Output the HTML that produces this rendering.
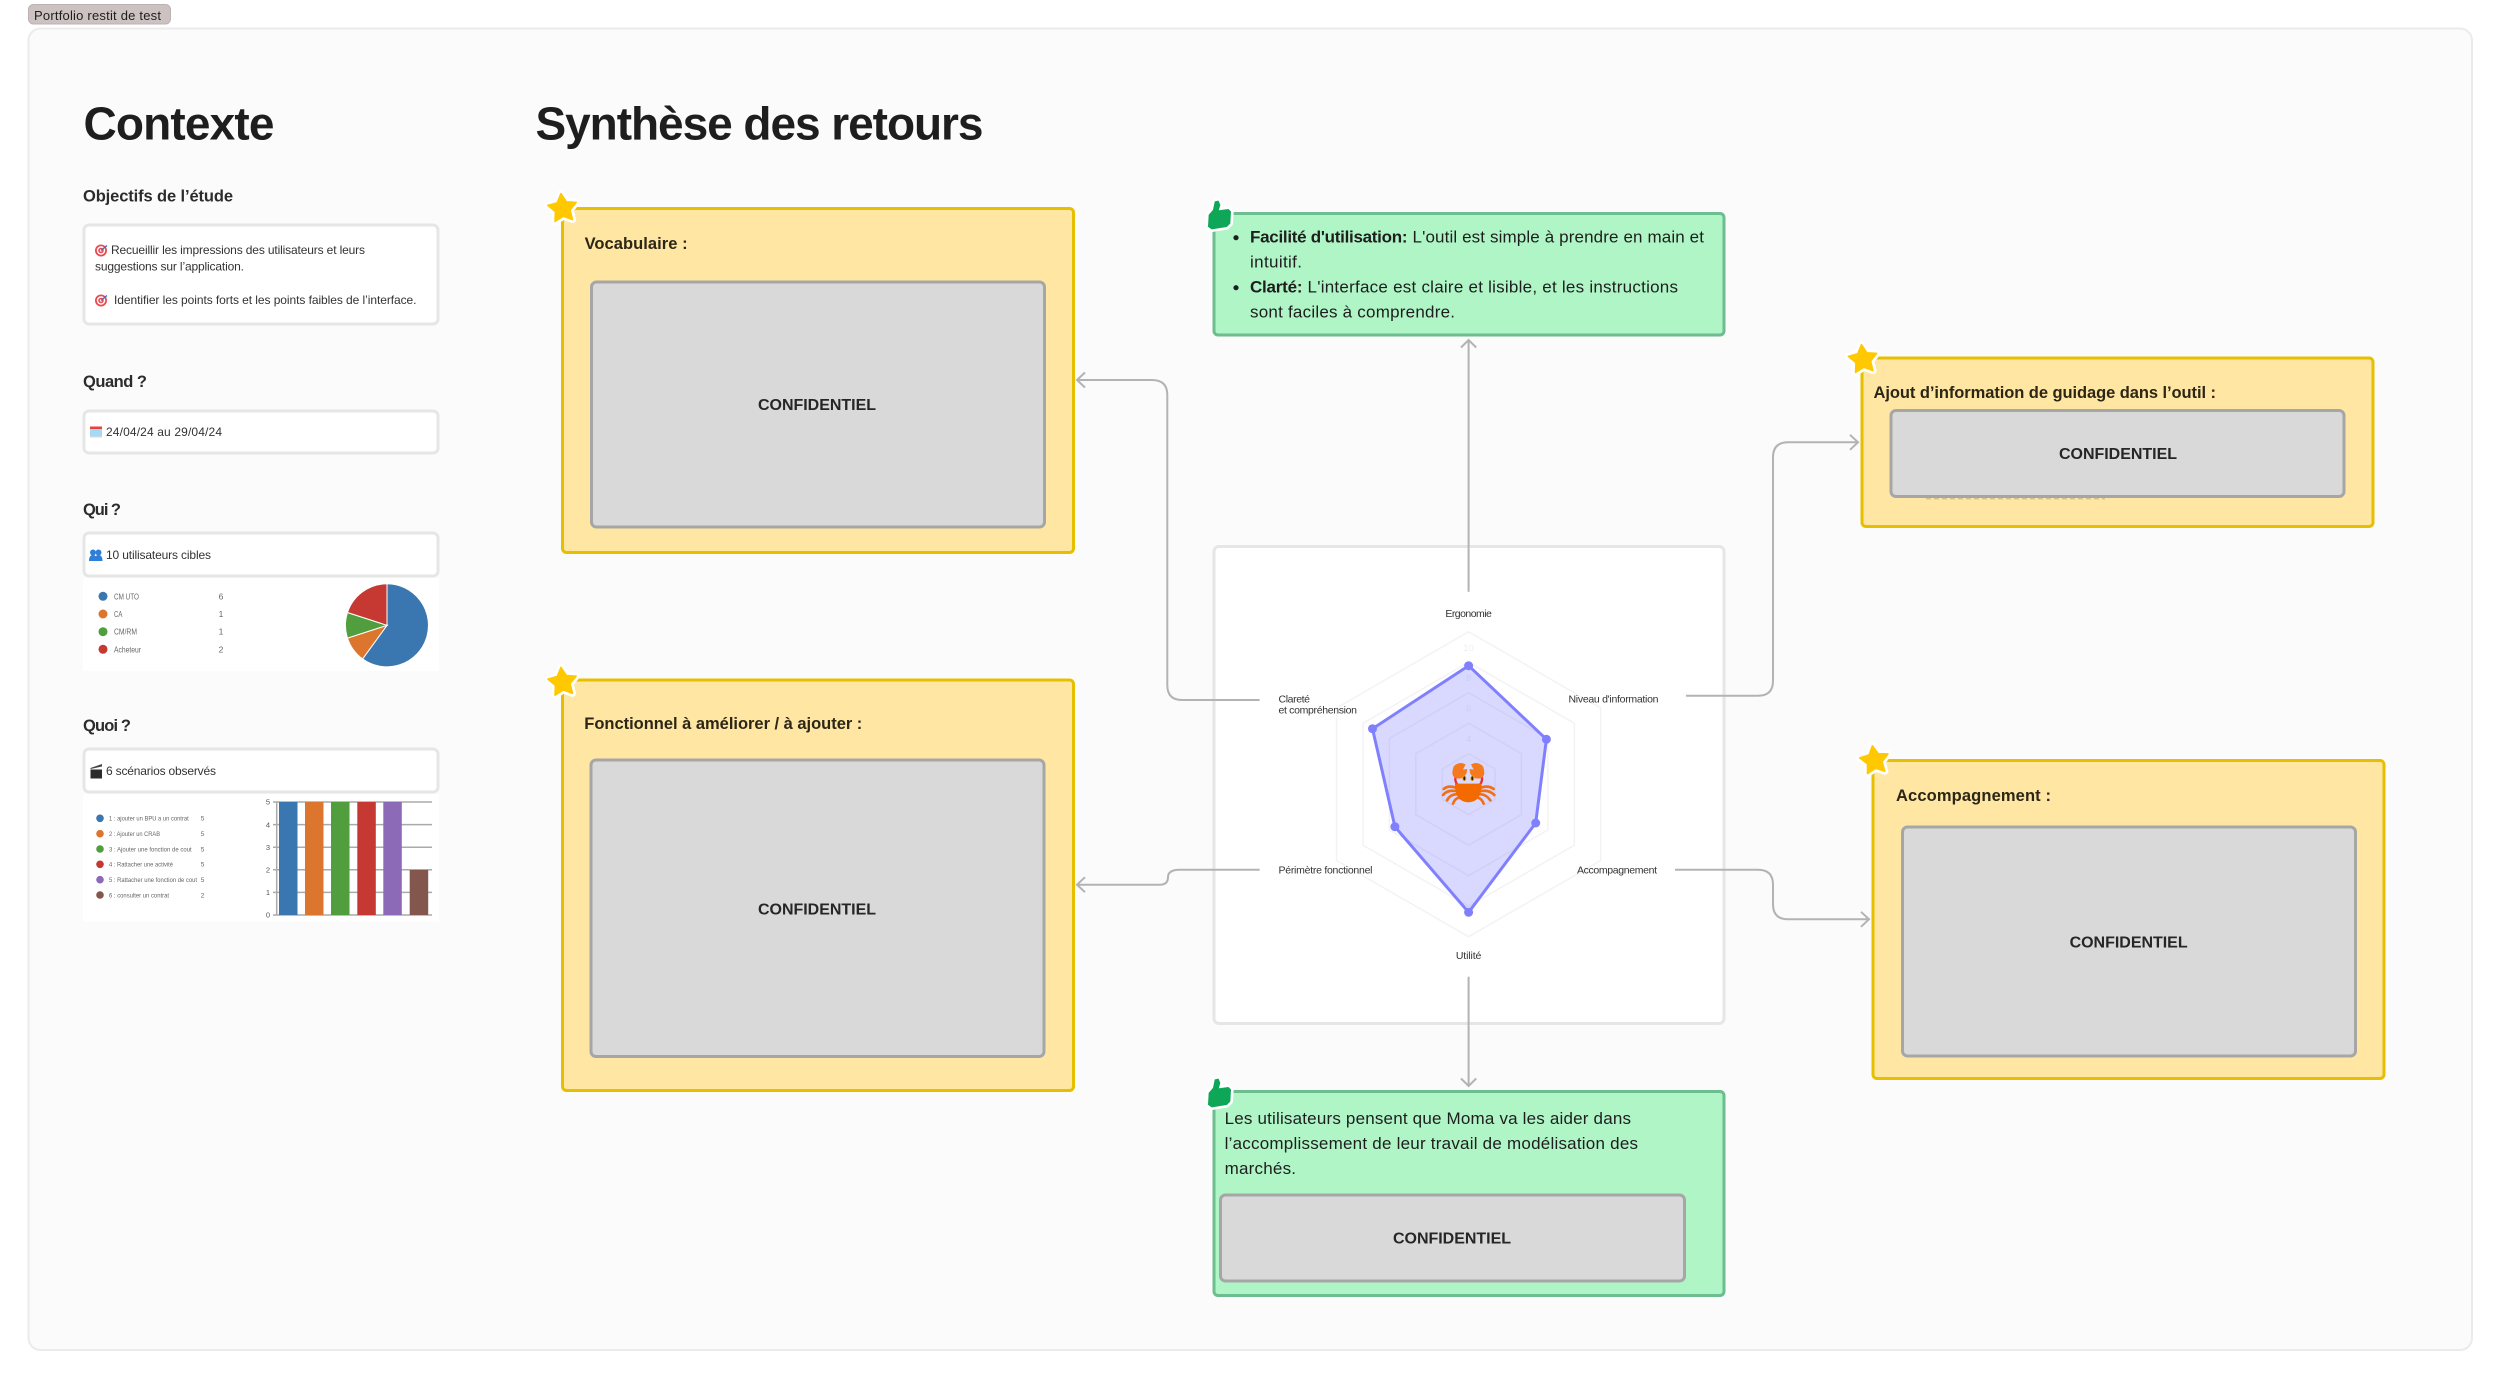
<!DOCTYPE html>
<html lang="fr">
<head>
<meta charset="utf-8">
<title>Portfolio restit de test</title>
<style>
html,body{margin:0;padding:0;background:#fff;width:2500px;height:1378px;overflow:hidden}
svg{display:block}
text{font-family:"Liberation Sans",sans-serif;fill:#1e1e1e}
.b{font-weight:bold}
.h1{font-size:46px;font-weight:bold;fill:#1e1e1e}
.h2{font-size:16.5px;font-weight:bold;fill:#2c2c2c}
.s{font-size:12px;fill:#333}
.card{fill:#fff;stroke:#e6e6e6;stroke-width:3}
.y{fill:#ffe6a3;stroke:#e6bf00;stroke-width:3}
.g{fill:#aff5c6;stroke:#6cbd8f;stroke-width:3}
.c{fill:#d9d9d9;stroke:#a6a6a6;stroke-width:3}
.t{font-size:16.5px;font-weight:bold;fill:#2b2616}
.cf{font-size:16px;font-weight:bold;fill:#262626}
.gt{font-size:17px;fill:#1e1e1e}
.l1{font-size:8.5px;fill:#666}
.l2{font-size:6.5px;fill:#666}
.rl{font-size:10.5px;fill:#333}
.rn{font-size:9.5px;fill:#efefef}
.ring{fill:none;stroke:#f3f3f3;stroke-width:1.5}
.con{fill:none;stroke:#b3b3b3;stroke-width:2}
.grid{stroke:#aaa;stroke-width:1.5}
</style>
</head>
<body>
<svg xmlns="http://www.w3.org/2000/svg" width="2500" height="1378" viewBox="0 0 2500 1378">
<defs>
<g id="star">
<polygon points="0,-15 4.58,-6.31 14.27,-4.64 7.42,2.41 8.82,12.14 0,7.8 -8.82,12.14 -7.42,2.41 -14.27,-4.64 -4.58,-6.31" fill="#fff" stroke="#fff" stroke-width="7" stroke-linejoin="round"/>
<polygon points="0,-15 4.58,-6.31 14.27,-4.64 7.42,2.41 8.82,12.14 0,7.8 -8.82,12.14 -7.42,2.41 -14.27,-4.64 -4.58,-6.31" fill="#ffc800" stroke="#ffc800" stroke-width="1.5" stroke-linejoin="round"/>
</g>
<g id="thumb">
<path d="M42 75 L55 60 L60 35 L70 33 L75 45 L70 62 L100 58 L107 65 L105 100 L95 110 L50 117 L40 110 Z" fill="#fff" stroke="#fff" stroke-width="18" stroke-linejoin="round"/>
<path d="M42 75 L55 60 L60 35 L70 33 L75 45 L70 62 L100 58 L107 65 L105 100 L95 110 L50 117 L40 110 Z" fill="#0da757" stroke="#0da757" stroke-width="2" stroke-linejoin="round"/>
</g>
<g id="target">
<circle r="6" fill="#ee4a50"/><circle r="4.2" fill="#fff"/><circle r="2.8" fill="#ee4a50"/><circle r="1.2" fill="#fff"/>
<path d="M0 0 L6 -5" stroke="#2a78c8" stroke-width="1.2"/>
</g>
</defs>

<rect x="28.5" y="4.5" width="142" height="19.5" rx="5" fill="#cdc2c2" stroke="#bdb2b2"/>
<text x="34" y="20" font-size="13" textLength="127">Portfolio restit de test</text>

<rect x="28.5" y="28.5" width="2443.5" height="1321.5" rx="12" fill="#fbfbfb" stroke="#ebebeb" stroke-width="2"/>

<!-- Contexte -->
<text class="h1" x="83.5" y="139.5" textLength="191">Contexte</text>
<text class="h2" x="83" y="201.5" textLength="150">Objectifs de l’étude</text>
<rect class="card" x="84" y="225" width="354" height="99" rx="5"/>
<use href="#target" x="101" y="250.5"/>
<text class="s" x="111" y="254" textLength="254">Recueillir les impressions des utilisateurs et leurs</text>
<text class="s" x="95" y="270.7" textLength="149">suggestions sur l’application.</text>
<use href="#target" x="101" y="300.5"/>
<text class="s" x="114" y="304" textLength="302.5">Identifier les points forts et les points faibles de l’interface.</text>

<text class="h2" x="83" y="387" textLength="64">Quand ?</text>
<rect class="card" x="84" y="411" width="354" height="42" rx="5"/>
<rect x="90" y="427" width="12" height="10.5" fill="#a6d8f7"/>
<rect x="90" y="426.5" width="12" height="2.5" fill="#e8423c"/>
<rect x="90" y="436" width="12" height="1.5" fill="#cfd8dc"/>
<text class="s" x="106" y="436" textLength="116">24/04/24 au 29/04/24</text>

<text class="h2" x="83" y="515" textLength="38">Qui ?</text>
<rect class="card" x="84" y="533" width="354" height="43" rx="5"/>
<g fill="#2f7fd8">
<circle cx="93" cy="552.5" r="3"/><path d="M89 561 q0 -6 4 -6 q4 0 4 6z"/>
<circle cx="98.5" cy="552.5" r="3"/><path d="M94.5 561 q0 -6 4 -6 q4 0 4 6z"/>
</g>
<text class="s" x="106" y="559" textLength="105">10 utilisateurs cibles</text>
<rect x="83" y="578" width="356" height="93" fill="#fff"/>
<circle cx="103" cy="596.3" r="4.5" fill="#3a76af"/><text class="l1" x="114" y="599.3" textLength="25" lengthAdjust="spacingAndGlyphs">CM UTO</text><text class="l1" x="221" y="599.3" text-anchor="middle">6</text>
<circle cx="103" cy="614" r="4.5" fill="#dc762f"/><text class="l1" x="114" y="617" textLength="8.3" lengthAdjust="spacingAndGlyphs">CA</text><text class="l1" x="221" y="617" text-anchor="middle">1</text>
<circle cx="103" cy="631.7" r="4.5" fill="#519e3e"/><text class="l1" x="114" y="634.7" textLength="23" lengthAdjust="spacingAndGlyphs">CM/RM</text><text class="l1" x="221" y="634.7" text-anchor="middle">1</text>
<circle cx="103" cy="649.3" r="4.5" fill="#c53932"/><text class="l1" x="114" y="652.3" textLength="27" lengthAdjust="spacingAndGlyphs">Acheteur</text><text class="l1" x="221" y="652.3" text-anchor="middle">2</text>
<g stroke="#fff" stroke-width="1">
<path d="M387 625.3 L387 583.8 A41.5 41.5 0 1 1 362.6 658.9Z" fill="#3a76af"/>
<path d="M387 625.3 L362.6 658.9 A41.5 41.5 0 0 1 347.5 638.1Z" fill="#dc762f"/>
<path d="M387 625.3 L347.5 638.1 A41.5 41.5 0 0 1 347.5 612.5Z" fill="#519e3e"/>
<path d="M387 625.3 L347.5 612.5 A41.5 41.5 0 0 1 387 583.8Z" fill="#c53932"/>
</g>

<text class="h2" x="83" y="731" textLength="48">Quoi ?</text>
<rect class="card" x="84" y="749" width="354" height="43" rx="5"/>
<rect x="90.5" y="769.5" width="11.5" height="9" fill="#2b2b2b"/>
<path d="M90.5 768 L102 764 L102 766.5 L90.5 769Z" fill="#444"/>
<text class="s" x="106" y="775" textLength="110">6 scénarios observés</text>
<rect x="83" y="794" width="356" height="127.5" fill="#fff"/>
<circle cx="100" cy="818.3" r="3.8" fill="#3a76af"/><text class="l2" x="109" y="820.6" textLength="79.7" lengthAdjust="spacingAndGlyphs">1 : ajouter un BPU a un contrat</text><text class="l2" x="202.5" y="820.6" text-anchor="middle">5</text>
<circle cx="100" cy="833.7" r="3.8" fill="#dc762f"/><text class="l2" x="109" y="836" textLength="51" lengthAdjust="spacingAndGlyphs">2 : Ajouter un CRAB</text><text class="l2" x="202.5" y="836" text-anchor="middle">5</text>
<circle cx="100" cy="849" r="3.8" fill="#519e3e"/><text class="l2" x="109" y="851.3" textLength="82.7" lengthAdjust="spacingAndGlyphs">3 : Ajouter une fonction de cout</text><text class="l2" x="202.5" y="851.3" text-anchor="middle">5</text>
<circle cx="100" cy="864.3" r="3.8" fill="#c53932"/><text class="l2" x="109" y="866.6" textLength="64" lengthAdjust="spacingAndGlyphs">4 : Rattacher une activité</text><text class="l2" x="202.5" y="866.6" text-anchor="middle">5</text>
<circle cx="100" cy="879.7" r="3.8" fill="#8d6ab8"/><text class="l2" x="109" y="882" textLength="88" lengthAdjust="spacingAndGlyphs">5 : Rattacher une fonction de cout</text><text class="l2" x="202.5" y="882" text-anchor="middle">5</text>
<circle cx="100" cy="895" r="3.8" fill="#84574e"/><text class="l2" x="109" y="897.3" textLength="60" lengthAdjust="spacingAndGlyphs">6 : consulter un contrat</text><text class="l2" x="202.5" y="897.3" text-anchor="middle">2</text>
<g class="grid">
<line x1="273" x2="432" y1="802" y2="802"/><line x1="273" x2="432" y1="824.6" y2="824.6"/><line x1="273" x2="432" y1="847.2" y2="847.2"/><line x1="273" x2="432" y1="869.8" y2="869.8"/><line x1="273" x2="432" y1="892.4" y2="892.4"/><line x1="273" x2="432" y1="915" y2="915"/><line x1="276.7" x2="276.7" y1="802" y2="915"/>
</g>
<rect x="279" y="802" width="18.5" height="113" fill="#3a76af"/>
<rect x="305" y="802" width="18.5" height="113" fill="#dc762f"/>
<rect x="331" y="802" width="18.5" height="113" fill="#519e3e"/>
<rect x="357.3" y="802" width="18.5" height="113" fill="#c53932"/>
<rect x="383.3" y="802" width="18.5" height="113" fill="#8d6ab8"/>
<rect x="409.7" y="870" width="18.5" height="45" fill="#84574e"/>
<g text-anchor="middle">
<text x="268" y="804.7" style="fill:#555;font-size:7.5px">5</text><text x="268" y="827.3" style="fill:#555;font-size:7.5px">4</text><text x="268" y="850" style="fill:#555;font-size:7.5px">3</text><text x="268" y="872.6" style="fill:#555;font-size:7.5px">2</text><text x="268" y="895.2" style="fill:#555;font-size:7.5px">1</text><text x="268" y="917.7" style="fill:#555;font-size:7.5px">0</text>
</g>

<!-- Synthèse -->
<text class="h1" x="535.5" y="139.5" textLength="448">Synthèse des retours</text>

<!-- Vocabulaire -->
<rect class="y" x="562.5" y="208.5" width="511" height="344" rx="4"/>
<rect class="c" x="591.5" y="282" width="453" height="245" rx="5"/>
<text class="t" x="584.6" y="249" textLength="103">Vocabulaire :</text>
<text class="cf" x="758" y="410" textLength="118">CONFIDENTIEL</text>
<use href="#star" transform="translate(562.5,208.5) rotate(-6)"/>

<!-- Fonctionnel -->
<rect class="y" x="562.5" y="680" width="511" height="410.5" rx="4"/>
<rect class="c" x="591" y="760" width="453" height="296.5" rx="5"/>
<text class="t" x="584.3" y="729" textLength="278">Fonctionnel à améliorer / à ajouter :</text>
<text class="cf" x="758" y="914.3" textLength="118">CONFIDENTIEL</text>
<use href="#star" transform="translate(562.5,682.2) rotate(-6)"/>

<!-- Panel radar -->
<rect class="card" x="1214" y="546.5" width="510" height="477" rx="5"/>
<polygon class="ring" points="1468.6,631.7 1600.7,708 1600.7,860.5 1468.6,936.7 1336.5,860.5 1336.5,708"/>
<polygon class="ring" points="1468.6,662.2 1574.3,723.2 1574.3,845.2 1468.6,906.2 1363,845.2 1363,723.2"/>
<polygon class="ring" points="1468.6,692.7 1547.8,738.5 1547.8,830 1468.6,875.7 1389.4,830 1389.4,738.5"/>
<polygon class="ring" points="1468.6,723.2 1521.4,753.7 1521.4,814.7 1468.6,845.2 1415.8,814.7 1415.8,753.7"/>
<polygon class="ring" points="1468.6,753.7 1495,769 1495,799.5 1468.6,814.7 1442.2,799.5 1442.2,769"/>
<text class="rn" x="1468.6" y="651" text-anchor="middle">10</text>
<text class="rn" x="1468.6" y="681" text-anchor="middle">8</text>
<text class="rn" x="1468.6" y="711.5" text-anchor="middle">6</text>
<text class="rn" x="1468.6" y="742" text-anchor="middle">4</text>
<polygon points="1468.6,665.7 1546.4,739.3 1535.7,823 1468.6,912.3 1394.9,826.7 1372.5,728.7" fill="#8080ff" fill-opacity=".3" stroke="#8080ff" stroke-width="3" stroke-linejoin="round"/>
<g fill="#8080ff">
<circle cx="1468.6" cy="665.7" r="4.5"/><circle cx="1546.4" cy="739.3" r="4.5"/><circle cx="1535.7" cy="823" r="4.5"/><circle cx="1468.6" cy="912.3" r="4.5"/><circle cx="1394.9" cy="826.7" r="4.5"/><circle cx="1372.5" cy="728.7" r="4.5"/>
</g>
<text class="rl" x="1468.6" y="617" text-anchor="middle" textLength="46.5">Ergonomie</text>
<text class="rl" x="1568.5" y="702.7" textLength="90">Niveau d'information</text>
<text class="rl" x="1278.5" y="702.7" textLength="31.5">Clareté</text>
<text class="rl" x="1278.5" y="713.7" textLength="78.5">et compréhension</text>
<text class="rl" x="1278.5" y="873.7" textLength="94">Périmètre fonctionnel</text>
<text class="rl" x="1577" y="873.7" textLength="80">Accompagnement</text>
<text class="rl" x="1468.6" y="959" text-anchor="middle" textLength="25.5">Utilité</text>

<!-- Crab -->
<g transform="translate(1435,755) scale(.3333)">
<g fill="none" stroke="#f0701a" stroke-width="8" stroke-linecap="round">
<path d="M62 98 Q40 90 26 102"/><path d="M60 108 Q38 104 24 120"/><path d="M64 118 Q46 118 36 136"/><path d="M72 128 Q60 130 54 146"/>
<path d="M138 98 Q160 90 176 102"/><path d="M140 108 Q162 104 178 120"/><path d="M136 118 Q154 118 166 136"/><path d="M128 128 Q140 130 146 146"/>
</g>
<g fill="none" stroke="#e8303a" stroke-width="7"><path d="M62 65 Q58 78 68 90"/><path d="M140 65 Q144 78 134 90"/></g>
<path d="M56 34 Q72 18 92 28 L84 44 L96 42 Q98 62 78 70 Q54 74 52 54 Q52 44 56 34Z" fill="#f57a1e"/>
<path d="M144 34 Q128 18 108 28 L116 44 L104 42 Q102 62 122 70 Q146 74 148 54 Q148 44 144 34Z" fill="#f57a1e"/>
<path d="M60 86 L140 86 Q142 140 100 142 Q58 140 60 86Z" fill="#f26a00"/>
<ellipse cx="88" cy="70" rx="6" ry="8" fill="#f7a800"/><ellipse cx="88" cy="70" rx="3" ry="6" fill="#3a2000"/>
<ellipse cx="112" cy="70" rx="6" ry="8" fill="#f7a800"/><ellipse cx="112" cy="70" rx="3" ry="6" fill="#3a2000"/>
</g>

<!-- Green top -->
<rect class="g" x="1214" y="213.5" width="510" height="121.5" rx="4"/>
<circle cx="1236" cy="237.7" r="2.6" fill="#1e1e1e"/>
<circle cx="1236" cy="287.7" r="2.6" fill="#1e1e1e"/>
<text class="gt b" x="1250" y="242.3" textLength="157.5">Facilité d'utilisation:</text>
<text class="gt" x="1412.5" y="242.3" textLength="291.5">L'outil est simple à prendre en main et</text>
<text class="gt" x="1250" y="267.3" textLength="52">intuitif.</text>
<text class="gt b" x="1250" y="292.3" textLength="52.5">Clarté:</text>
<text class="gt" x="1307.5" y="292.3" textLength="370.5">L'interface est claire et lisible, et les instructions</text>
<text class="gt" x="1250" y="317.3" textLength="205">sont faciles à comprendre.</text>
<use href="#thumb" transform="translate(1195,190) scale(.3333)"/>

<!-- Green bottom -->
<rect class="g" x="1214" y="1091.5" width="510" height="204" rx="4"/>
<text class="gt" x="1224.6" y="1124" textLength="406.4">Les utilisateurs pensent que Moma va les aider dans</text>
<text class="gt" x="1224.6" y="1149" textLength="413.4">l’accomplissement de leur travail de modélisation des</text>
<text class="gt" x="1224.6" y="1174" textLength="71.4">marchés.</text>
<rect class="c" x="1220.5" y="1195" width="464" height="86" rx="5"/>
<text class="cf" x="1393" y="1243.6" textLength="118">CONFIDENTIEL</text>
<use href="#thumb" transform="translate(1195,1068) scale(.3333)"/>

<!-- Yellow right 1 -->
<rect class="y" x="1862" y="358" width="511" height="168.5" rx="4"/>
<line x1="1926" x2="2105" y1="498.8" y2="498.8" stroke="#8e8567" stroke-width="1.5" stroke-dasharray="5 3" opacity=".35"/>
<rect class="c" x="1891" y="410.5" width="453" height="86" rx="5"/>
<text class="t" x="1873.5" y="398" textLength="342.5">Ajout d’information de guidage dans l’outil :</text>
<text class="cf" x="2059" y="459" textLength="118">CONFIDENTIEL</text>
<use href="#star" transform="translate(1863,359.5) rotate(-6)"/>

<!-- Yellow right 2 -->
<rect class="y" x="1873" y="760.5" width="511" height="318" rx="4"/>
<rect class="c" x="1902.5" y="827" width="453" height="229" rx="5"/>
<text class="t" x="1896" y="801" textLength="155">Accompagnement :</text>
<text class="cf" x="2069.6" y="947.7" textLength="118">CONFIDENTIEL</text>
<use href="#star" transform="translate(1874.5,760.5) rotate(-8)"/>

<!-- Connectors -->
<path class="con" d="M1468.6 591.7 V340 M1461 347.5 L1468.6 340 L1476.2 347.5"/>
<path class="con" d="M1468.6 976.7 V1086 M1461 1078.5 L1468.6 1086 L1476.2 1078.5"/>
<path class="con" d="M1259.6 700 H1182 Q1167.3 700 1167.3 685 V395 Q1167.3 380 1152 380 H1077 M1085 372.5 L1077 380 L1085 387.5"/>
<path class="con" d="M1259.6 869.7 H1180 Q1168 869.7 1168 877 Q1168 884.7 1160 884.7 H1077 M1085 877.2 L1077 884.7 L1085 892.2"/>
<path class="con" d="M1686 695.7 H1758 Q1773 695.7 1773 680.7 V457.3 Q1773 442.3 1788 442.3 H1858 M1850 434.8 L1858 442.3 L1850 449.8"/>
<path class="con" d="M1675 869.7 H1758 Q1773 869.7 1773 884.7 V904.3 Q1773 919.3 1788 919.3 H1869 M1861 911.8 L1869 919.3 L1861 926.8"/>
</svg>
</body>
</html>
